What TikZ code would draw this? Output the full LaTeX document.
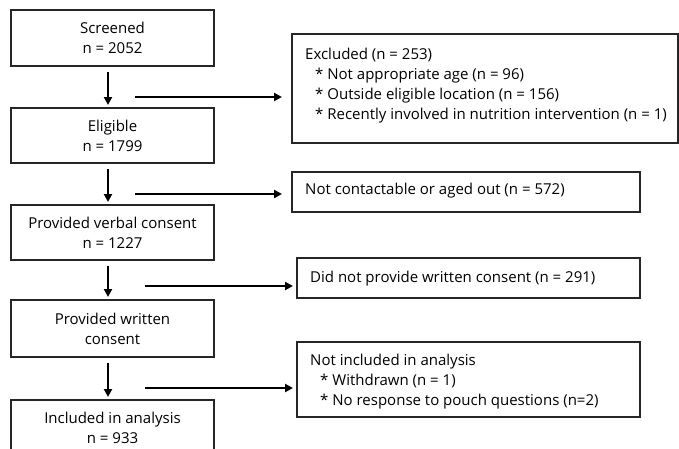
\documentclass[tikz,border=0pt]{standalone}
\usepackage{fontspec}
\setmainfont{Open Sans}
\usetikzlibrary{arrows.meta}
\begin{document}
\begin{tikzpicture}[x=1pt,y=-1pt,
  box/.style={draw=black!85,line width=1.2pt,inner sep=0pt,outer sep=0pt},
  lbox/.style={box,minimum width=203pt,align=center,font=\fontsize{15}{20}\selectfont},
  txt/.style={inner sep=0pt,align=left,anchor=north west,font=\fontsize{15}{20}\selectfont},
  arr/.style={line width=2.2pt,-{Triangle[length=8pt,width=8pt]}}]
\clip (0,0) rectangle (679,448);
\useasboundingbox (0,0) rectangle (679,448);
% left column
\node[lbox,minimum height=56pt] (b1) at (112.5,38) {Screened\\n = 2052};
\node[lbox,minimum height=55pt] (b2) at (112.5,135.5) {Eligible\\n = 1799};
\node[lbox,minimum height=55pt] (b3) at (112.5,232.5) {Provided verbal consent\\n = 1227};
\node[lbox,minimum height=57pt] (b4) at (112.5,328.5) {Provided written\\consent};
\node[lbox,minimum height=56pt] (b5) at (112.5,428) {Included in analysis\\n = 933};
% right column
\node[box,minimum width=386pt,minimum height=109pt] (e1) at (485,88.5) {};
\node[box,minimum width=348pt,minimum height=40pt] (e2) at (466,192) {};
\node[box,minimum width=343pt,minimum height=40pt] (e3) at (468.5,278) {};
\node[box,minimum width=343pt,minimum height=75pt] (e4) at (468.5,379.5) {};
\node[txt] (t1) at (305,48) {Excluded (n = 253)\\\hspace{10pt}* Not appropriate age (n = 96)\\\hspace{10pt}* Outside eligible location (n = 156)\\\hspace{10pt}* Recently involved in nutrition intervention (n = 1)};
\node[txt] (t2) at (305,183) {Not contactable or aged out (n = 572)};
\node[txt] (t3) at (310,271) {Did not provide written consent (n = 291)};
\node[txt] (t4) at (310,354) {Not included in analysis\\\hspace{10pt}* Withdrawn (n = 1)\\\hspace{10pt}* No response to pouch questions (n=2)};
% vertical arrows
\draw[arr] ([xshift=-4.5pt,yshift=-6pt]b1.south) -- ([xshift=-4.5pt,yshift=3pt]b2.north);
\draw[arr] ([xshift=-4.5pt,yshift=-6pt]b2.south) -- ([xshift=-4.5pt,yshift=3pt]b3.north);
\draw[arr] ([xshift=-4.5pt,yshift=-6pt]b3.south) -- ([xshift=-4.5pt,yshift=3pt]b4.north);
\draw[arr] ([xshift=-4.5pt,yshift=-6pt]b4.south) -- ([xshift=-4.5pt,yshift=3pt]b5.north);
% horizontal arrows
\coordinate (h1) at (135,97);
\coordinate (h2) at (135,194);
\coordinate (h3) at (145,286);
\coordinate (h4) at (145,388);
\draw[arr] (h1) -- ([xshift=-10pt]e1.west |- h1);
\draw[arr] (h2) -- ([xshift=-10pt]e2.west |- h2);
\draw[arr] (h3) -- ([xshift=-4pt]e3.west |- h3);
\draw[arr] (h4) -- ([xshift=-4pt]e4.west |- h4);
\end{tikzpicture}
\end{document}
